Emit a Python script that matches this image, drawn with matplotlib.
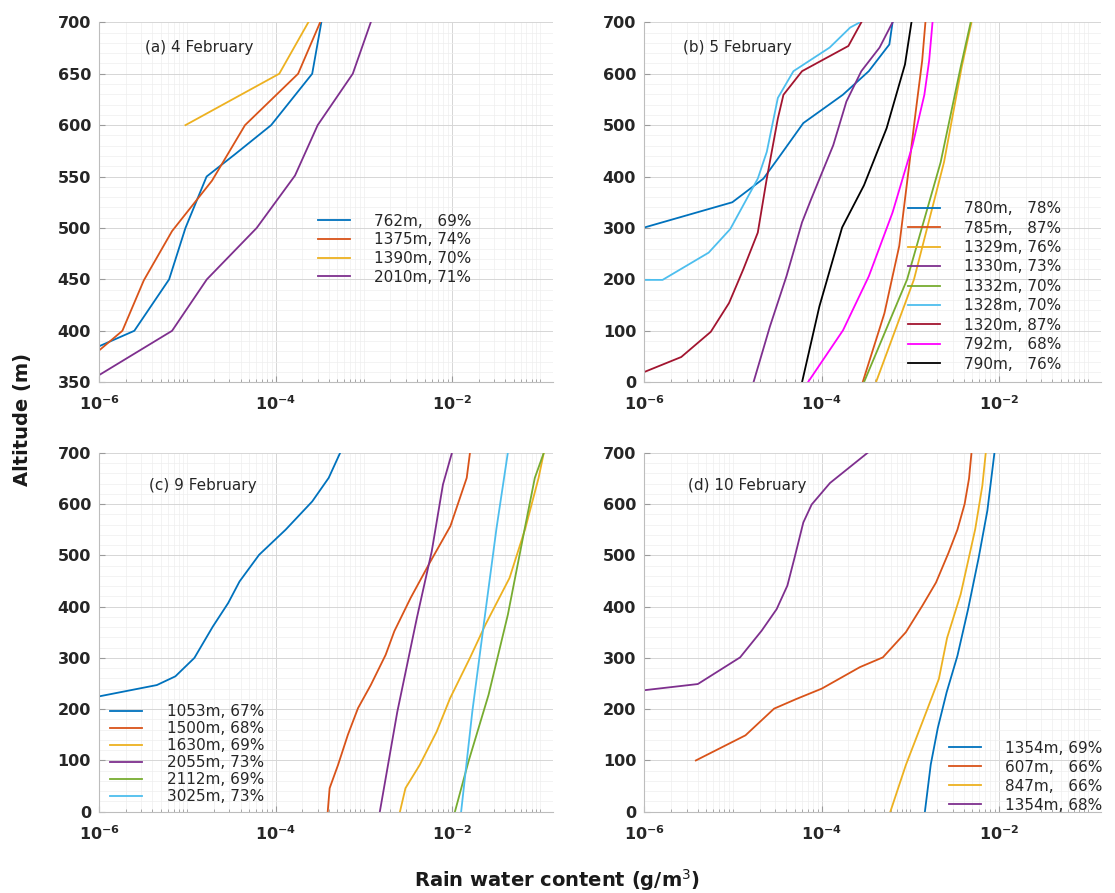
import matplotlib.pyplot as plt
from matplotlib.ticker import FixedLocator, LogLocator, MultipleLocator, AutoMinorLocator, NullFormatter

# MATLAB default line colours
blue, orange, yellow, purple = "#0072BD", "#D95319", "#EDB120", "#7E2F8E"
green, cyan, darkred = "#77AC30", "#4DBEEE", "#A2142F"

# ---- (a) 4 February ----
a_labels = ["762m,   69%", "1375m, 74%", "1390m, 70%", "2010m, 71%"]
a_762_alt = [385, 400, 450, 500, 550, 572, 600, 650, 700]
a_762_rwc = [1e-6, 2.5e-6, 6.2e-6, 9.5e-6, 1.65e-5, 3.5e-5, 8.9e-5, 2.6e-4, 3.3e-4]
a_1375_alt = [381, 400, 449, 497, 546, 600, 650, 700]
a_1375_rwc = [1e-6, 1.83e-6, 3.2e-6, 6.7e-6, 1.9e-5, 4.5e-5, 1.8e-4, 3.2e-4]
a_1390_alt = [600, 650, 700]
a_1390_rwc = [9.5e-6, 1.1e-4, 2.35e-4]
a_2010_alt = [357, 400, 450, 500, 551, 600, 650, 700]
a_2010_rwc = [1e-6, 6.7e-6, 1.66e-5, 6.1e-5, 1.66e-4, 3.0e-4, 7.5e-4, 1.2e-3]

# ---- (b) 5 February ----
b_labels = ["780m,   78%", "785m,   87%", "1329m, 76%", "1330m, 73%", "1332m, 70%",
            "1328m, 70%", "1320m, 87%", "792m,   68%", "790m,   76%"]
b_780_alt = [301, 350, 396, 441, 504, 559, 605, 657, 700]
b_780_rwc = [1e-6, 9.8e-6, 2.2e-5, 3.4e-5, 6.2e-5, 1.73e-4, 3.4e-4, 5.8e-4, 6.3e-4]
b_785_alt = [0, 134, 265, 396, 526, 625, 700]
b_785_rwc = [2.9e-4, 5.1e-4, 7.5e-4, 9.3e-4, 1.15e-3, 1.36e-3, 1.48e-3]
b_1329_alt = [0, 200, 428, 613, 700]
b_1329_rwc = [4.1e-4, 1.1e-3, 2.4e-3, 3.8e-3, 4.9e-3]
b_1330_alt = [0, 108, 206, 311, 356, 461, 546, 605, 651, 700]
b_1330_rwc = [1.7e-5, 2.6e-5, 4.0e-5, 6.0e-5, 7.6e-5, 1.35e-4, 1.9e-4, 2.8e-4, 4.5e-4, 6.3e-4]
b_1332_alt = [0, 200, 428, 613, 700]
b_1332_rwc = [3.0e-4, 9.2e-4, 2.2e-3, 3.7e-3, 4.8e-3]
b_1328_alt = [199, 199, 252, 298, 396, 448, 553, 605, 651, 690, 700]
b_1328_rwc = [1e-6, 1.6e-6, 5.3e-6, 9.3e-6, 1.9e-5, 2.4e-5, 3.2e-5, 4.8e-5, 1.23e-4, 2.1e-4, 2.7e-4]
b_1320_alt = [20, 49, 98, 154, 219, 291, 396, 513, 559, 605, 654, 700]
b_1320_rwc = [1e-6, 2.6e-6, 5.6e-6, 9e-6, 1.3e-5, 1.9e-5, 2.4e-5, 3.2e-5, 3.7e-5, 6.0e-5, 2.0e-4, 2.8e-4]
b_792_alt = [0, 101, 206, 330, 461, 559, 625, 700]
b_792_rwc = [7.0e-5, 1.74e-4, 3.4e-4, 6.3e-4, 1.06e-3, 1.44e-3, 1.63e-3, 1.78e-3]
b_790_alt = [0, 147, 301, 383, 494, 618, 700]
b_790_rwc = [6.0e-5, 9.4e-5, 1.7e-4, 3.0e-4, 5.4e-4, 8.7e-4, 1.03e-3]

# ---- (c) 9 February ----
c_labels = ["1053m, 67%", "1500m, 68%", "1630m, 69%", "2055m, 73%", "2112m, 69%", "3025m, 73%"]
c_1053_alt = [225, 247, 264, 300, 361, 407, 449, 501, 550, 605, 651, 700]
c_1053_rwc = [1e-6, 4.5e-6, 7.3e-6, 1.2e-5, 1.94e-5, 2.9e-5, 3.9e-5, 6.5e-5, 1.3e-4, 2.6e-4, 4.0e-4, 5.4e-4]
c_1500_alt = [0, 46, 91, 150, 202, 247, 306, 352, 417, 488, 557, 651, 700]
c_1500_rwc = [3.9e-4, 4.1e-4, 5.1e-4, 6.6e-4, 8.6e-4, 1.2e-3, 1.77e-3, 2.22e-3, 3.4e-3, 5.7e-3,
              9.6e-3, 1.47e-2, 1.6e-2]
c_1630_alt = [0, 46, 91, 156, 221, 300, 365, 456, 553, 651, 700]
c_1630_rwc = [2.57e-3, 2.97e-3, 4.3e-3, 6.7e-3, 9.5e-3, 1.6e-2, 2.4e-2, 4.5e-2, 6.8e-2, 9.6e-2, 1.1e-1]
c_2055_alt = [0, 195, 378, 508, 638, 700]
c_2055_rwc = [1.52e-3, 2.4e-3, 4.0e-3, 5.9e-3, 7.9e-3, 1.0e-2]
c_2112_alt = [0, 98, 228, 384, 553, 651, 700]
c_2112_rwc = [1.08e-2, 1.54e-2, 2.6e-2, 4.3e-2, 6.7e-2, 8.7e-2, 1.1e-1]
c_3025_alt = [0, 195, 391, 553, 700]
c_3025_rwc = [1.27e-2, 1.7e-2, 2.4e-2, 3.2e-2, 4.3e-2]

# ---- (d) 10 February ----
d_labels = ["1354m, 69%", "607m,   66%", "847m,   66%", "1354m, 68%"]
d_1354a_alt = [0, 92, 163, 233, 304, 396, 495, 587, 700]
d_1354a_rwc = [1.46e-3, 1.7e-3, 2.04e-3, 2.57e-3, 3.4e-3, 4.5e-3, 5.9e-3, 7.4e-3, 8.9e-3]
d_607_alt = [100, 149, 201, 220, 240, 282, 301, 350, 402, 447, 505, 550, 600, 650, 700]
d_607_rwc = [3.8e-6, 1.38e-5, 2.9e-5, 5.2e-5, 1.0e-4, 2.7e-4, 4.9e-4, 8.9e-4, 1.37e-3, 1.95e-3,
             2.7e-3, 3.4e-3, 4.1e-3, 4.6e-3, 4.9e-3]
d_847_alt = [0, 91, 175, 259, 339, 424, 551, 636, 700]
d_847_rwc = [5.95e-4, 8.9e-4, 1.37e-3, 2.1e-3, 2.6e-3, 3.7e-3, 5.4e-3, 6.5e-3, 7.1e-3]
d_1354b_alt = [237, 249, 301, 353, 395, 441, 499, 564, 599, 641, 700]
d_1354b_rwc = [1e-6, 4.0e-6, 1.2e-5, 2.1e-5, 3.1e-5, 4.1e-5, 5.0e-5, 6.2e-5, 7.7e-5, 1.24e-4, 3.3e-4]

panels = [
    ("(a) 4 February", [0.089, 0.572, 0.407, 0.403], (350, 700), 50,
     [(a_762_rwc, a_762_alt, blue), (a_1375_rwc, a_1375_alt, orange),
      (a_1390_rwc, a_1390_alt, yellow), (a_2010_rwc, a_2010_alt, purple)],
     a_labels, (0.482, 0.468), (0.10, 0.93), 0.24),
    ("(b) 5 February", [0.578, 0.572, 0.409, 0.403], (0, 700), 100,
     [(b_780_rwc, b_780_alt, blue), (b_785_rwc, b_785_alt, orange),
      (b_1329_rwc, b_1329_alt, yellow), (b_1330_rwc, b_1330_alt, purple),
      (b_1332_rwc, b_1332_alt, green), (b_1328_rwc, b_1328_alt, cyan),
      (b_1320_rwc, b_1320_alt, darkred), (b_792_rwc, b_792_alt, "#FF00FF"),
      (b_790_rwc, b_790_alt, "black")],
     b_labels, (0.577, 0.503), (0.085, 0.93), 0.29),
    ("(c) 9 February", [0.089, 0.091, 0.407, 0.402], (0, 700), 100,
     [(c_1053_rwc, c_1053_alt, blue), (c_1500_rwc, c_1500_alt, orange),
      (c_1630_rwc, c_1630_alt, yellow), (c_2055_rwc, c_2055_alt, purple),
      (c_2112_rwc, c_2112_alt, green), (c_3025_rwc, c_3025_alt, cyan)],
     c_labels, (0.024, 0.3), (0.11, 0.91), 0.13),
    ("(d) 10 February", [0.578, 0.091, 0.409, 0.402], (0, 700), 100,
     [(d_1354a_rwc, d_1354a_alt, blue), (d_607_rwc, d_607_alt, orange),
      (d_847_rwc, d_847_alt, yellow), (d_1354b_rwc, d_1354b_alt, purple)],
     d_labels, (0.667, 0.198), (0.096, 0.91), 0.26),
]

fig = plt.figure(figsize=(11.15, 8.93), dpi=100)

for title, pos, ylim, ystep, series, labels, leg_xy, title_xy, lsp in panels:
    ax = fig.add_axes(pos)
    for (x, y, c), lab in zip(series, labels):
        ax.plot(x, y, color=c, lw=1.3, label=lab)
    ax.set_xscale("log")
    ax.set_xlim(1e-6, 0.14)
    ax.set_ylim(*ylim)
    ax.xaxis.set_major_locator(FixedLocator([1e-6, 1e-4, 1e-2]))
    ax.xaxis.set_minor_locator(LogLocator(base=10, subs=[1, 2, 3, 4, 5, 6, 7, 8, 9], numticks=30))
    ax.xaxis.set_minor_formatter(NullFormatter())
    ax.yaxis.set_major_locator(MultipleLocator(ystep))
    ax.yaxis.set_minor_locator(AutoMinorLocator(5))
    ax.grid(True, which="major", color="#d6d6d6", lw=0.7)
    ax.grid(True, which="minor", color="#eeeeee", lw=0.5)
    ax.set_axisbelow(True)
    for s in ["top", "right"]:
        ax.spines[s].set_visible(False)
    for s in ["left", "bottom"]:
        ax.spines[s].set_color("#bdbdbd")
    ax.tick_params(which="both", direction="in", colors="#9a9a9a", labelcolor="#262626")
    ax.tick_params(which="major", length=4, labelsize=11.5)
    ax.tick_params(which="minor", length=2)
    ax.tick_params(axis="y", which="minor", length=0)
    ax.tick_params(axis="x", which="major", pad=9)
    ax.tick_params(axis="y", which="major", pad=6)
    for t in ax.get_xticklabels() + ax.get_yticklabels():
        t.set_fontweight("bold")
    ax.text(*title_xy, title, transform=ax.transAxes, fontsize=11, color="#262626", va="center")
    ax.legend(loc="upper left", bbox_to_anchor=leg_xy, frameon=False, fontsize=11,
              handlelength=2.1, handletextpad=1.6, labelspacing=lsp, borderpad=0,
              borderaxespad=0, labelcolor="#262626")

fig.text(0.02, 0.53, "Altitude (m)", rotation=90, fontsize=14, fontweight="bold",
         ha="center", va="center", color="#1a1a1a")
fig.text(0.5, 0.015, "Rain water content (g/m$^3$)", fontsize=14, fontweight="bold",
         ha="center", va="center", color="#1a1a1a")

fig.savefig("out.png", dpi=100)
